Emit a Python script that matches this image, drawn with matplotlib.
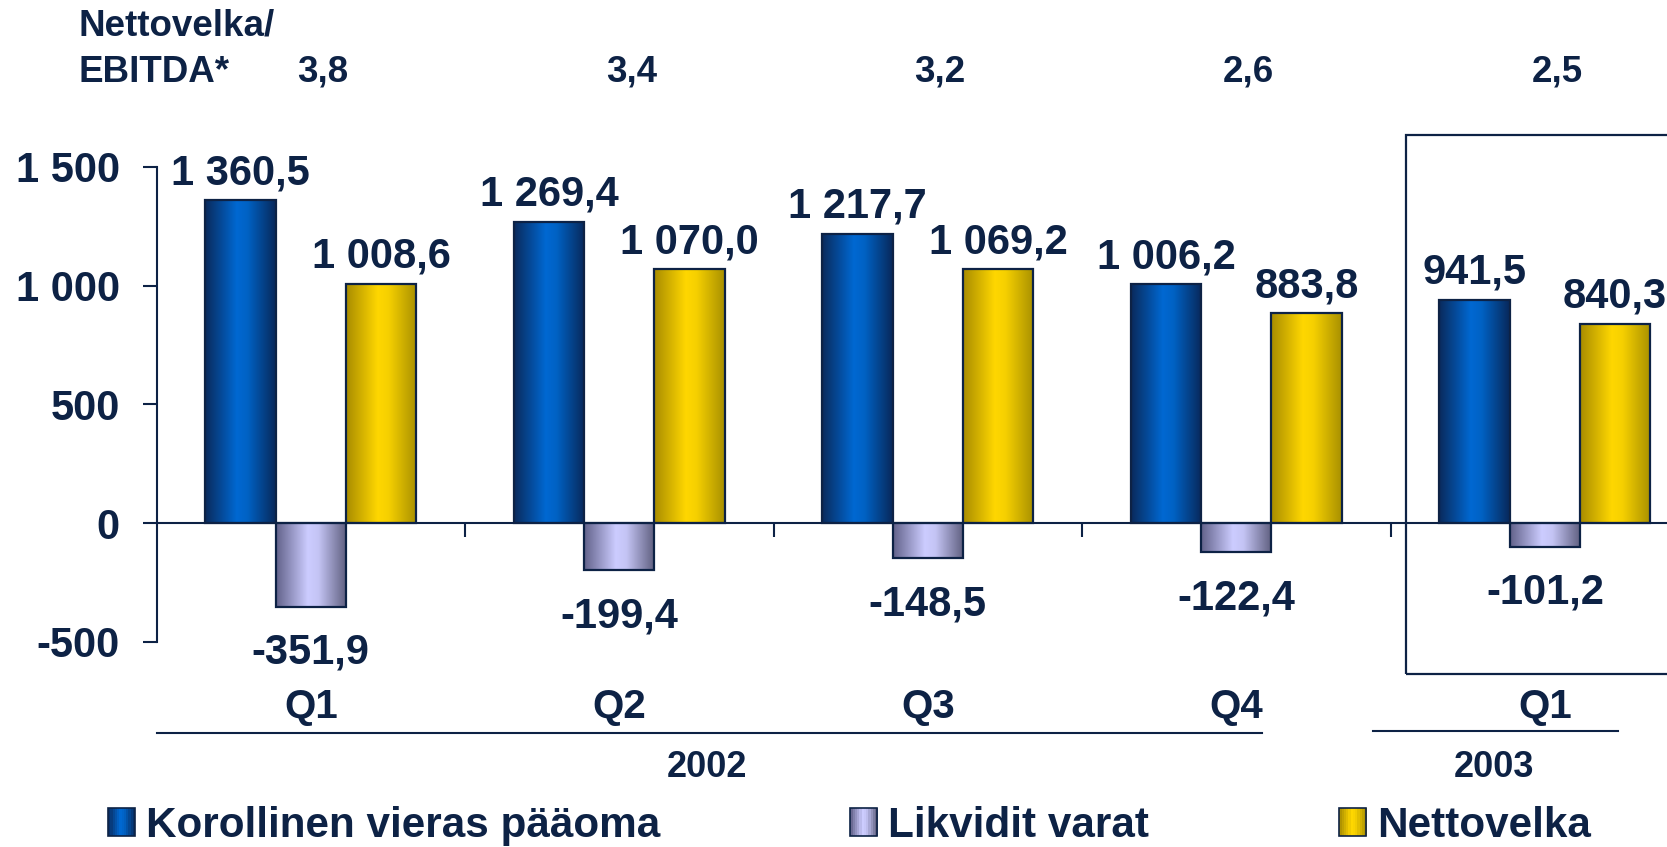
import numpy as np
import matplotlib
matplotlib.use('Agg')
import matplotlib.pyplot as plt
from matplotlib.colors import LinearSegmentedColormap
from matplotlib.patches import Rectangle
from matplotlib.legend_handler import HandlerBase

# ---------------- data ----------------
quarters = ['Q1', 'Q2', 'Q3', 'Q4', 'Q1']
years = ['2002', '2003']
ratios = ['3,8', '3,4', '3,2', '2,6', '2,5']
korollinen = [1360.5, 1269.4, 1217.7, 1006.2, 941.5]
likvidit = [-351.9, -199.4, -148.5, -122.4, -101.2]
nettovelka = [1008.6, 1070.0, 1069.2, 883.8, 840.3]
series_names = ['Korollinen vieras pääoma', 'Likvidit varat', 'Nettovelka']
yticks = [-500, 0, 500, 1000, 1500]

NAVY = '#0d2245'
plt.rcParams['font.family'] = ['Liberation Sans', 'DejaVu Sans']
plt.rcParams['font.weight'] = 'bold'

cmaps = [
    LinearSegmentedColormap.from_list('b', [(0, '#0a2a5c'), (0.45, '#0068d2'), (0.6, '#0062c4'), (1, '#08285a')]),
    LinearSegmentedColormap.from_list('l', [(0, '#62628a'), (0.45, '#ccccff'), (0.6, '#c4c4f4'), (1, '#5e5e7e')]),
    LinearSegmentedColormap.from_list('y', [(0, '#a88c00'), (0.45, '#ffd700'), (0.6, '#f6d000'), (1, '#a89000')]),
]


def fmt(v):
    s = f"{abs(v):,.1f}".replace(',', ' ').replace('.', ',')
    return ('-' if v < 0 else '') + s


fig = plt.figure(figsize=(16.67, 8.47), dpi=100)
ax = fig.add_axes([0.0939, 0.1863, 0.9061, 0.6727])

x = np.arange(len(quarters))
width = 0.228
offsets = [-width, 0, width]
grad = np.linspace(0, 1, 256).reshape(1, -1)

for k, (vals, cm) in enumerate(zip([korollinen, likvidit, nettovelka], cmaps)):
    bars = ax.bar(x + offsets[k], vals, width, facecolor='none', edgecolor=NAVY,
                  linewidth=1.6, zorder=3)
    for b, v in zip(bars, vals):
        x0, y0 = b.get_x(), b.get_y()
        w, h = b.get_width(), b.get_height()
        im = ax.imshow(grad, cmap=cm, aspect='auto', extent=(x0, x0 + w, min(y0, y0 + h), max(y0, y0 + h)),
                       zorder=2, interpolation='bilinear')
        im.set_clip_path(b)
        cx = x0 + w / 2
        if v >= 0:
            ax.annotate(fmt(v), (cx, v), xytext=(0, 11.5), textcoords='offset points',
                        ha='center', va='baseline', fontsize=30, color=NAVY, fontweight='bold')
        else:
            ax.annotate(fmt(v), (cx, v), xytext=(0, -41), textcoords='offset points',
                        ha='center', va='baseline', fontsize=30, color=NAVY, fontweight='bold')

ax.set_xlim(-0.5, 4.396)
ax.set_ylim(-700, 1700)

for s in ['top', 'right']:
    ax.spines[s].set_visible(False)
ax.spines['left'].set_bounds(-500, 1500)
ax.spines['left'].set_color(NAVY)
ax.spines['left'].set_linewidth(1.5)
ax.spines['bottom'].set_position(('data', 0))
ax.spines['bottom'].set_color(NAVY)
ax.spines['bottom'].set_linewidth(1.5)

ax.set_yticks(yticks)
ax.set_yticklabels([f"{t:,}".replace(',', ' ') for t in yticks])
ax.tick_params(axis='y', length=10, width=1.5, color=NAVY, pad=16.5, labelsize=30, labelcolor=NAVY)
ax.set_xticks(x[:-1] + 0.5)
ax.set_xticklabels([])
ax.tick_params(axis='x', length=10, width=1.5, color=NAVY, direction='out')

# highlight box around 2003 Q1
ax.add_patch(Rectangle((3.549, -636), 2.0, 2270, fill=False, edgecolor=NAVY, linewidth=1.6,
                       clip_on=False, zorder=4))

# category labels
for i, q in enumerate(quarters):
    ax.text(i, -775, q, ha='center', va='center', fontsize=29, color=NAVY,
            fontweight='bold', clip_on=False)

# year lines and labels
ax.plot([-0.5, 3.082], [-885, -885], color=NAVY, lw=1.5, clip_on=False)
ax.plot([3.444, 4.236], [-875, -875], color=NAVY, lw=1.5, clip_on=False)
ax.text(1.283, -1030, years[0], ha='center', va='center', fontsize=26, color=NAVY,
        fontweight='bold', clip_on=False)
ax.text(3.836, -1030, years[1], ha='center', va='center', fontsize=26, color=NAVY,
        fontweight='bold', clip_on=False)

# Nettovelka/EBITDA row
fig.text(78 / 1667, 1 - 26 / 847, 'Nettovelka/', ha='left', va='center', fontsize=26.5,
         color=NAVY, fontweight='bold')
fig.text(78 / 1667, 1 - 72 / 847, 'EBITDA*', ha='left', va='center', fontsize=26.5,
         color=NAVY, fontweight='bold')
for i, r in enumerate(ratios):
    ax.text(i + 0.04, 1900, r, ha='center', va='center', fontsize=26.5, color=NAVY,
            fontweight='bold', clip_on=False)


# legend with gradient handles
class GradHandler(HandlerBase):
    def __init__(self, cmap):
        super().__init__()
        self.cmap = cmap

    def create_artists(self, legend, orig_handle, xdescent, ydescent, width, height, fontsize, trans):
        arts = []
        n = 12
        for j in range(n):
            r = Rectangle((-xdescent + width * j / n, -ydescent), width / n + 0.3, height,
                          facecolor=self.cmap((j + 0.5) / n), edgecolor='none', transform=trans)
            arts.append(r)
        arts.append(Rectangle((-xdescent, -ydescent), width, height, fill=False,
                              edgecolor=NAVY, linewidth=1.2, transform=trans))
        return arts


handles = [Rectangle((0, 0), 1, 1) for _ in series_names]
fig.legend(handles, series_names, loc='center left', bbox_to_anchor=(108 / 1667, 1 - 826 / 847),
           ncol=3, frameon=False, prop={'size': 30.4, 'weight': 'bold'}, labelcolor=NAVY,
           columnspacing=4.5, handlelength=0.64, handleheight=0.64, handletextpad=0.26,
           borderpad=0, borderaxespad=0,
           handler_map={h: GradHandler(cm) for h, cm in zip(handles, cmaps)})

fig.savefig('out.png', dpi=100)
